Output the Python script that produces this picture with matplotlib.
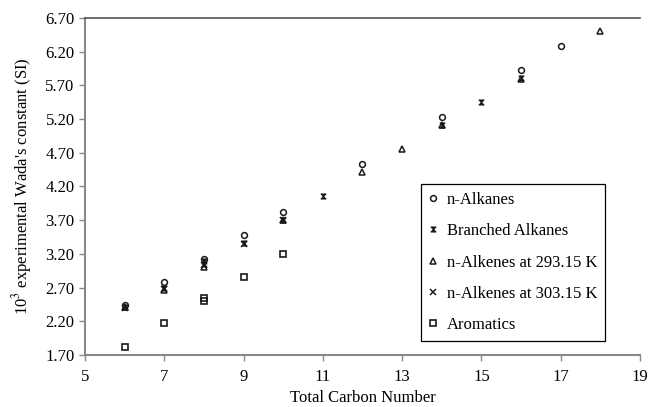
import numpy as np
import matplotlib.pyplot as plt
from matplotlib.path import Path

# values
alkanes_c = [6, 7, 8, 9, 10, 12, 14, 16, 17]
alkanes_w = [2.44, 2.78, 3.13, 3.48, 3.82, 4.53, 5.23, 5.93, 6.28]

branched_c = [6, 7, 8, 8, 9, 10, 11, 14, 15, 16]
branched_w = [2.41, 2.70, 3.05, 3.10, 3.36, 3.71, 4.06, 5.11, 5.45, 5.81]

alkenes293_c = [6, 7, 8, 10, 12, 13, 14, 16, 18]
alkenes293_w = [2.41, 2.66, 3.01, 3.70, 4.42, 4.76, 5.11, 5.80, 6.51]

alkenes303_c = [6, 7, 8, 9, 10]
alkenes303_w = [2.40, 2.68, 3.03, 3.35, 3.70]

aromatics_c = [6, 7, 8, 8, 9, 10]
aromatics_w = [1.82, 2.17, 2.50, 2.54, 2.86, 3.20]

x_ticks = [5, 7, 9, 11, 13, 15, 17, 19]
y_ticks = [1.70, 2.20, 2.70, 3.20, 3.70, 4.20, 4.70, 5.20, 5.70, 6.20, 6.70]

plt.rcParams['font.family'] = ['Liberation Serif', 'DejaVu Serif']
plt.rcParams['mathtext.fontset'] = 'stix'

# hourglass marker for the branched alkanes
bowtie = Path([(-1, 1), (1, 1), (-1, -1), (1, -1), (-1, 1)],
              [Path.MOVETO, Path.LINETO, Path.LINETO, Path.LINETO, Path.CLOSEPOLY])

fig = plt.figure(figsize=(6.51, 4.07), dpi=100)
ax = fig.add_axes([0.1306, 0.1278, 0.8524, 0.8280])

ink = '#1a1a1a'
fs = 12
ax.plot(alkanes_c, alkanes_w, 'o', ms=4.2, mfc='none', mec=ink, mew=1.1, ls='none', label='n-Alkanes')
ax.plot(branched_c, branched_w, marker=bowtie, ms=3.6, mfc=ink, mec=ink, mew=0.8, ls='none', label='Branched Alkanes')
ax.plot(alkenes293_c, alkenes293_w, '^', ms=4.2, mfc='none', mec=ink, mew=1.1, ls='none', label='n-Alkenes at 293.15 K')
ax.plot(alkenes303_c, alkenes303_w, 'x', ms=4.0, mec=ink, mew=1.1, ls='none', label='n-Alkenes at 303.15 K')
ax.plot(aromatics_c, aromatics_w, 's', ms=4.0, mfc='none', mec=ink, mew=1.2, ls='none', label='Aromatics')

ax.set_xlim(5, 19)
ax.set_ylim(1.70, 6.70)
ax.set_xticks(x_ticks)
ax.set_yticks(y_ticks)
ax.set_yticklabels([f'{v:.2f}' for v in y_ticks])
ax.tick_params(labelsize=fs, color='#888888', length=4, width=1)
ax.tick_params(axis='x', pad=6)

for side in ['left', 'bottom']:
    ax.spines[side].set_color('#888888')
    ax.spines[side].set_linewidth(1.5)
ax.spines['top'].set_color('#555555')
ax.spines['top'].set_linewidth(1.2)
ax.spines['right'].set_visible(False)

ax.set_xlabel('Total Carbon Number', fontsize=fs, labelpad=4)
ax.set_ylabel("10$^3$ experimental Wada's constant (SI)", fontsize=fs, labelpad=8)

leg = ax.legend(loc='lower left', bbox_to_anchor=(0.605, 0.042), borderaxespad=0,
                fontsize=fs, labelspacing=0.92, handlelength=0.6, handletextpad=0.5,
                borderpad=0.45, fancybox=False, framealpha=1, edgecolor='black')
leg.get_frame().set_linewidth(0.9)

plt.savefig('out.png', dpi=100)
